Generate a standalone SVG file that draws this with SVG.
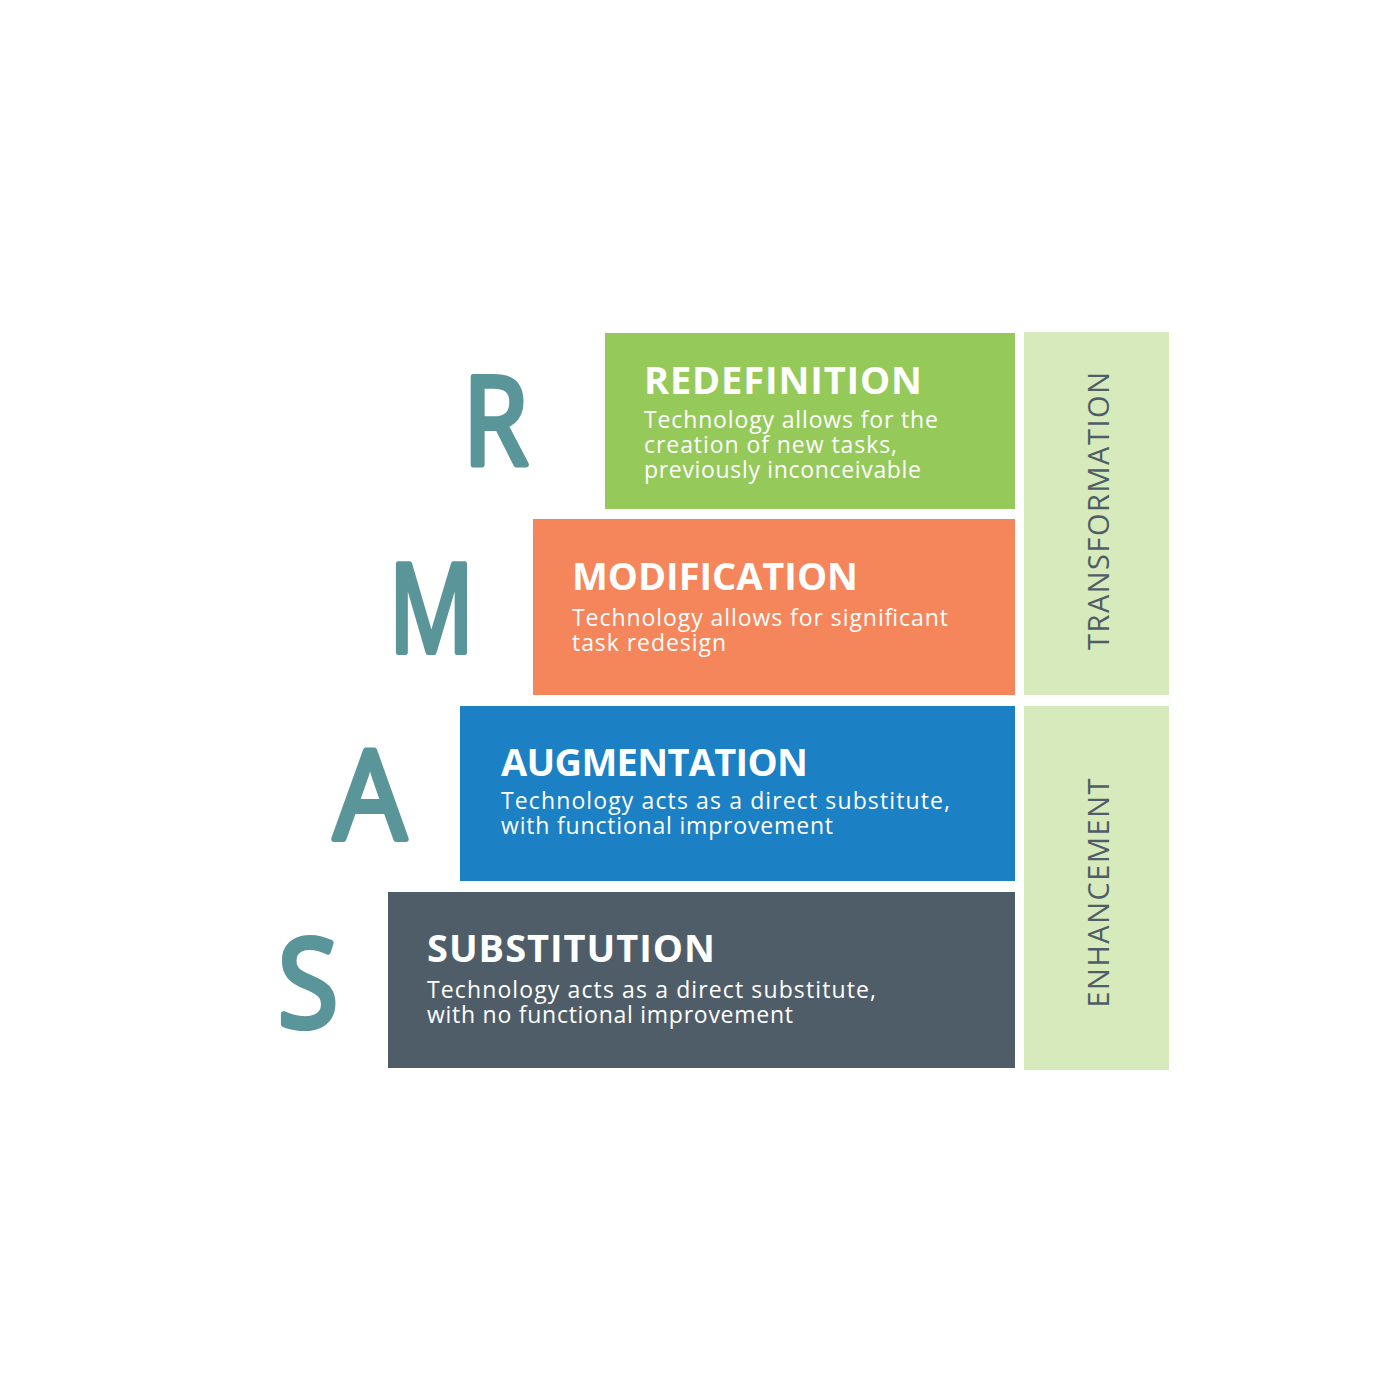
<svg xmlns="http://www.w3.org/2000/svg" width="1400" height="1400" viewBox="0 0 1400 1400">
<style>
.letter{font-family:"Open Sans","Liberation Sans",sans-serif;font-weight:400;font-size:122px;fill:#5a9699;stroke:#5a9699;stroke-width:6;stroke-linejoin:round}
.title{font-family:"Open Sans","DejaVu Sans",sans-serif;font-weight:700;font-size:38px;fill:#ffffff}
.sub{font-family:"Open Sans","DejaVu Sans",sans-serif;font-size:23px;fill:#ffffff}
.band{fill:#d6eabc}
.vlabel{font-family:"Open Sans","DejaVu Sans",sans-serif;font-size:29px;fill:#4f5d68;text-anchor:middle}
</style>
<rect width="1400" height="1400" fill="#ffffff"/>
<g id="letters">
<text class="letter" x="463" y="465" textLength="65" lengthAdjust="spacingAndGlyphs">R</text>
<text class="letter" x="389" y="652" textLength="85" lengthAdjust="spacingAndGlyphs">M</text>
<text class="letter" x="334" y="839" textLength="72" lengthAdjust="spacingAndGlyphs">A</text>
<text class="letter" x="278" y="1027" textLength="60" lengthAdjust="spacingAndGlyphs">S</text>
</g>
<g id="redefinition">
<rect x="605" y="333" width="410" height="176" fill="#95c95a"/>
<text class="title" x="644" y="394" textLength="278">REDEFINITION</text>
<text class="sub" x="644" y="428" textLength="294">Technology allows for the</text>
<text class="sub" x="644" y="453" textLength="253">creation of new tasks,</text>
<text class="sub" x="644" y="478" textLength="277">previously inconceivable</text>
</g>
<g id="modification">
<rect x="533" y="519" width="482" height="176" fill="#f5855a"/>
<text class="title" x="572" y="590" textLength="286">MODIFICATION</text>
<text class="sub" x="572" y="626" textLength="376">Technology allows for significant</text>
<text class="sub" x="572" y="651" textLength="154">task redesign</text>
</g>
<g id="augmentation">
<rect x="460" y="706" width="555" height="175" fill="#1b80c4"/>
<text class="title" x="501" y="776" textLength="307">AUGMENTATION</text>
<text class="sub" x="501" y="809" textLength="449">Technology acts as a direct substitute,</text>
<text class="sub" x="501" y="834" textLength="332">with functional improvement</text>
</g>
<g id="substitution">
<rect x="388" y="892" width="627" height="176" fill="#4f5d68"/>
<text class="title" x="427" y="962" textLength="288">SUBSTITUTION</text>
<text class="sub" x="427" y="998" textLength="449">Technology acts as a direct substitute,</text>
<text class="sub" x="427" y="1023" textLength="366">with no functional improvement</text>
</g>
<g id="transformation">
<rect class="band" x="1024" y="332" width="145" height="363"/>
<text class="vlabel" transform="translate(1109,511) rotate(-90)" textLength="278">TRANSFORMATION</text>
</g>
<g id="enhancement">
<rect class="band" x="1024" y="706" width="145" height="364"/>
<text class="vlabel" transform="translate(1109,893) rotate(-90)" textLength="229">ENHANCEMENT</text>
</g>
<g id="connectors"></g>
</svg>
